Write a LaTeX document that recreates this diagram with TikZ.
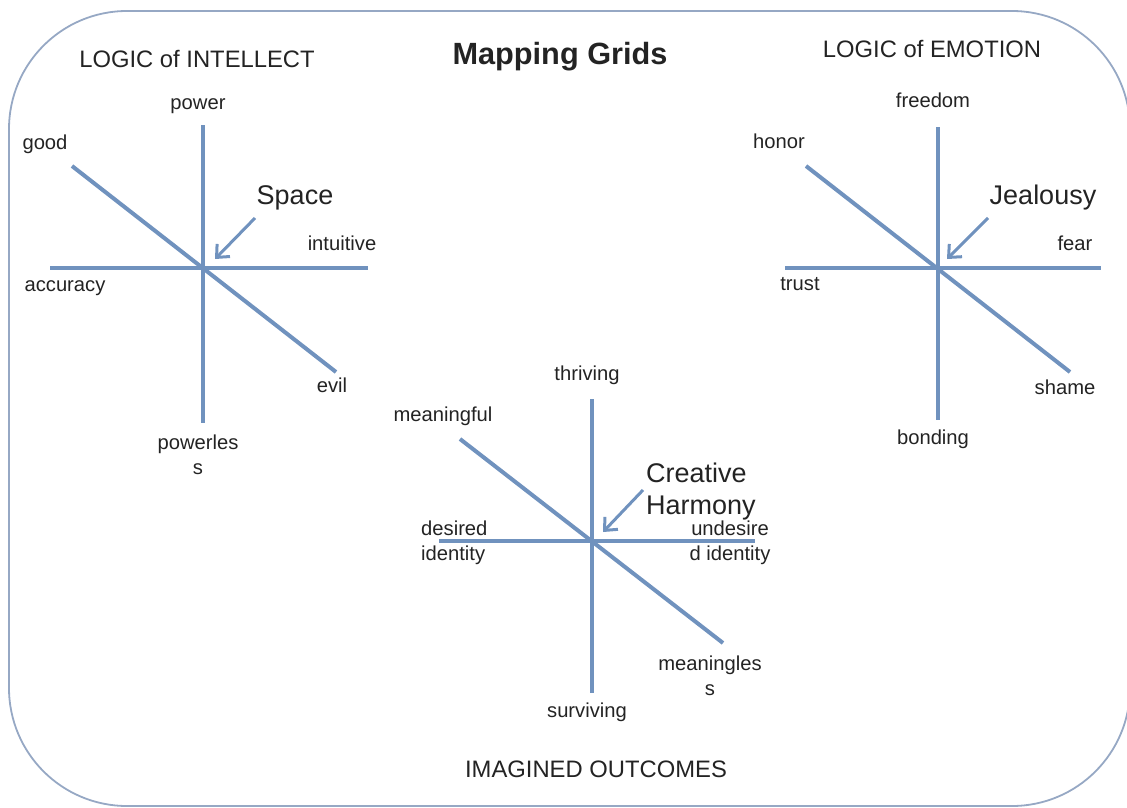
\documentclass[tikz,border=0pt]{standalone}
\usepackage{fontspec}
\setmainfont{Liberation Sans}
\usetikzlibrary{arrows.meta}
\definecolor{axiscol}{RGB}{112,146,190}
\definecolor{framecol}{RGB}{150,168,196}
\definecolor{inkcol}{RGB}{35,35,35}
\begin{document}
\begin{tikzpicture}[x=1pt,y=-1pt,
  axisline/.style={draw=axiscol, line width=4pt},
  pointer/.style={draw=axiscol, line width=3pt, -{Straight Barb[length=10pt,width=18pt,line width=3pt]}},
  lbl/.style={font=\fontsize{20.2}{24}\selectfont, text=inkcol, inner sep=0pt, text height=0.72em, text depth=0.21em},
  lbltwo/.style={font=\fontsize{20.2}{24.5}\selectfont, text=inkcol, inner sep=0pt, align=center},
  big/.style={font=\fontsize{27}{32}\selectfont, text=inkcol, inner sep=0pt},
  heading/.style={font=\fontsize{23.8}{28}\selectfont, text=inkcol, inner sep=0pt, text height=0.72em, text depth=0.21em}
]
\useasboundingbox (0,0) rectangle (1127,808);
\draw[draw=framecol, line width=1.8pt, rounded corners=118pt] (9,11) rectangle (1130,806);

% title and region headings
\node[font=\bfseries\fontsize{30.7}{36}\selectfont, text=inkcol, inner sep=0pt, text height=0.72em, text depth=0.21em] (title) at (560,62) {Mapping Grids};
\node[heading] (hint) at (197,65) {LOGIC of INTELLECT};
\node[heading] (hemo) at (932,55) {LOGIC of EMOTION};
\node[heading] (himg) at (596,775) {IMAGINED OUTCOMES};

% ---- left grid ----
\coordinate (a) at (203,268);
\coordinate (an) at (203,125);
\coordinate (as) at (203,423);
\coordinate (aw) at (50,268);
\coordinate (ae) at (368,268);
\coordinate (anw) at (72,166);
\coordinate (ase) at (336,372);
\draw[axisline] (an) -- (as);
\draw[axisline] (aw) -- (ae);
\draw[axisline] (anw) -- (ase);
\node[lbl] (power) at (198,107) {power};
\node[lbl] (good) at (45,147) {good};
\node[lbl] (intuitive) at (342,248) {intuitive};
\node[lbl] (accuracy) at (65,289) {accuracy};
\node[lbl] (evil) at (332,390) {evil};
\node[lbltwo] (powerless) at (198,455) {powerles\\s};
\node[big, text height=0.72em, text depth=0.21em] (space) at (295,202) {Space};
\coordinate (spacefrom) at (255,218);
\coordinate (spaceto) at (215,259);
\draw[pointer] (spacefrom) -- (spaceto);

% ---- right grid ----
\coordinate (b) at (938,268);
\coordinate (bn) at (938,127);
\coordinate (bs) at (938,420);
\coordinate (bw) at (785,268);
\coordinate (be) at (1101,268);
\coordinate (bnw) at (806,166);
\coordinate (bse) at (1070,372);
\draw[axisline] (bn) -- (bs);
\draw[axisline] (bw) -- (be);
\draw[axisline] (bnw) -- (bse);
\node[lbl] (freedom) at (933,105) {freedom};
\node[lbl] (honor) at (779,146) {honor};
\node[lbl] (fear) at (1075,248) {fear};
\node[lbl] (trust) at (800,288) {trust};
\node[lbl] (shame) at (1065,392) {shame};
\node[lbl] (bonding) at (933,442) {bonding};
\node[big, text height=0.72em, text depth=0.21em] (jealousy) at (1043,202) {Jealousy};
\coordinate (jfrom) at (988,218);
\coordinate (jto) at (947,259);
\draw[pointer] (jfrom) -- (jto);

% ---- centre grid ----
\coordinate (c) at (592,541);
\coordinate (cn) at (592,399);
\coordinate (cs) at (592,693);
\coordinate (cw) at (439,541);
\coordinate (ce) at (755,541);
\coordinate (cnw) at (460,439);
\coordinate (cse) at (723,643);
\draw[axisline] (cn) -- (cs);
\draw[axisline] (cw) -- (ce);
\draw[axisline] (cnw) -- (cse);
\node[lbl] (thriving) at (587,378) {thriving};
\node[lbl] (meaningful) at (443,419) {meaningful};
\node[lbl] (surviving) at (587,715) {surviving};
\node[lbltwo, align=left, anchor=west] (desired) at (421,543) {desired\\identity};
\node[lbltwo] (undesired) at (730,543) {undesire\\d identity};
\node[lbltwo] (meaningless) at (710,676) {meaningles\\s};
\node[big, align=left, anchor=west] (creative) at (646,492) {Creative\\Harmony};
\coordinate (cfrom) at (643,490);
\coordinate (cto) at (603,532);
\draw[pointer] (cfrom) -- (cto);
\end{tikzpicture}
\end{document}
